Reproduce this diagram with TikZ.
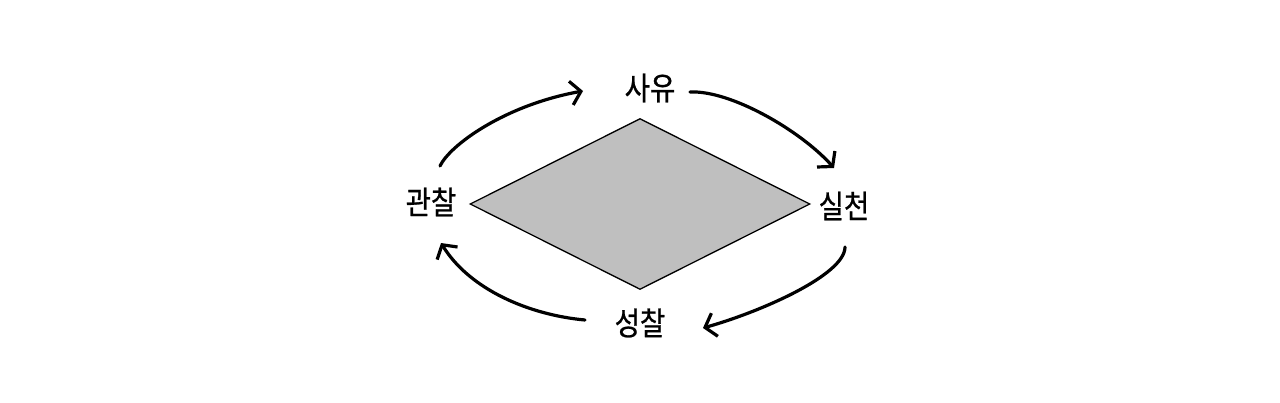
\documentclass[tikz,border=0pt]{standalone}
\usepackage{fontspec}
\usepackage{tikz}
\usetikzlibrary{arrows.meta,shapes.geometric,calc}
\newfontfamily\kofont{Noto Sans CJK KR}[FakeStretch=0.86,FakeBold=0.8]
\definecolor{corefill}{RGB}{191,191,191}

\begin{document}
\begin{tikzpicture}[
      x=1pt,y=-1pt,
      lbl/.style={font=\kofont\fontsize{32}{32}\selectfont,inner sep=1pt},
      arr/.style={-{Straight Barb[length=10pt,width=24pt]},line width=3.2pt,line cap=round},
      core/.style={diamond,draw,line width=1.3pt,fill=corefill,inner sep=0pt,minimum width=340pt,minimum height=171pt}
    ]
    \useasboundingbox (0,0) rectangle (1280,402);
    \node[core] (rhomb) at (640,204) {};
    \node[lbl] (sayu) at (650,88) {사유};
    \node[lbl] (silcheon) at (844,206) {실천};
    \node[lbl] (seongchal) at (640,323) {성찰};
    \node[lbl] (gwanchal) at (431,202) {관찰};

    \draw[arr] ($(gwanchal)+(9,-36)$) .. controls ($(gwanchal)+(19,-57)$) and ($(sayu)+(-145,17)$) .. ($(sayu)+(-67,3)$);
    \draw[arr] ($(sayu)+(40,4)$) .. controls ($(sayu)+(80,2)$) and ($(silcheon)+(-44,-76)$) .. ($(silcheon)+(-10,-38)$);
    \draw[arr] ($(silcheon)+(1,41)$) .. controls ($(silcheon)+(1,69)$) and ($(seongchal)+(120,-11)$) .. ($(seongchal)+(63,5)$);
    \draw[arr] ($(seongchal)+(-55,-3)$) .. controls ($(seongchal)+(-110,-8)$) and ($(gwanchal)+(39,88)$) .. ($(gwanchal)+(10,41)$);
  \end{tikzpicture}
\end{document}
